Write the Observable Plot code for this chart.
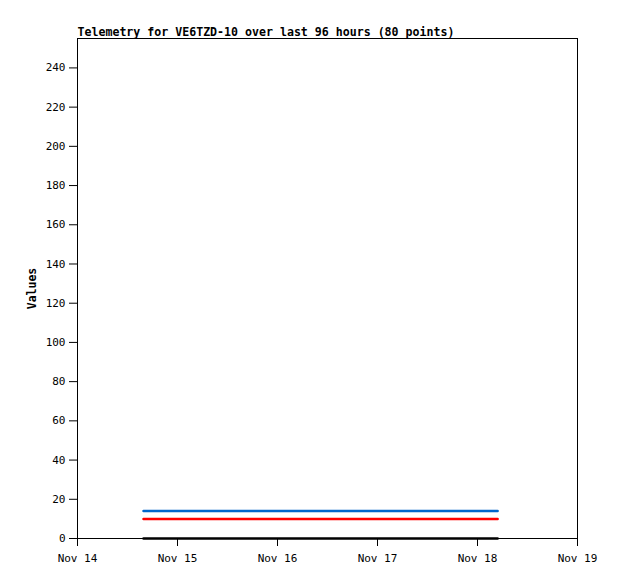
<!DOCTYPE html>
<html><head><meta charset="utf-8">
<script src="https://cdn.jsdelivr.net/npm/d3@7"></script>
<script src="https://cdn.jsdelivr.net/npm/@observablehq/plot@0.6"></script>
<style>body{margin:0;background:#fff}</style>
</head><body><div id="chart"></div>
<script>
const titleText = "Telemetry for VE6TZD-10 over last 96 hours (80 points)";
const times = ["2023-11-14T15:50:00Z", "2023-11-18T04:50:00Z"];
const blueValues = [14, 14];
const redValues = [10, 10];
const blackValues = [0, 0];
const yTicks = [0, 20, 40, 60, 80, 100, 120, 140, 160, 180, 200, 220, 240];
const xTicks = ["2023-11-14", "2023-11-15", "2023-11-16", "2023-11-17", "2023-11-18", "2023-11-19"];
const xDomain = ["2023-11-14", "2023-11-19"];

const mk = (vals, s) => times.map((t, i) => ({t: new Date(t), v: vals[i], s}));
const rows = [...mk(blackValues, "s1"), ...mk(redValues, "s2"), ...mk(blueValues, "s3")];
const font = "'DejaVu Sans Mono', monospace";

const chart = Plot.plot({
  width: 618, height: 579,
  marginLeft: 77, marginRight: 41, marginTop: 38, marginBottom: 41,
  style: {fontFamily: font, fontSize: "11px", color: "#000", background: "#fff"},
  x: {type: "utc", domain: xDomain.map(d => new Date(d + "T00:00:00Z"))},
  y: {domain: [0, 255]},
  color: {domain: ["s1", "s2", "s3"], range: ["#000000", "#ff0000", "#0066cc"]},
  marks: [
    Plot.frame({stroke: "#000"}),
    Plot.axisY({ticks: yTicks, tickSize: 8, tickPadding: 4, label: null, fontSize: 11}),
    Plot.text(["Values"], {frameAnchor: "left", dx: -45, rotate: -90, textAnchor: "middle", text: d => d, fontWeight: "bold", fontSize: 11.5}),
    Plot.axisX({ticks: xTicks.map(d => new Date(d + "T00:00:00Z")), tickSize: 8, tickPadding: 8, tickFormat: d3.utcFormat("%b %-d"), label: null}),
    Plot.ruleY([0], {stroke: "#000"}),
    Plot.line(rows, {x: "t", y: "v", z: "s", stroke: "s", strokeWidth: 2.5}),
    Plot.text([titleText], {frameAnchor: "top-left", dy: -3, text: d => d, fontWeight: "bold", fontSize: 11.6, lineAnchor: "bottom"})
  ]
});
document.getElementById("chart").append(chart);
</script></body></html>
